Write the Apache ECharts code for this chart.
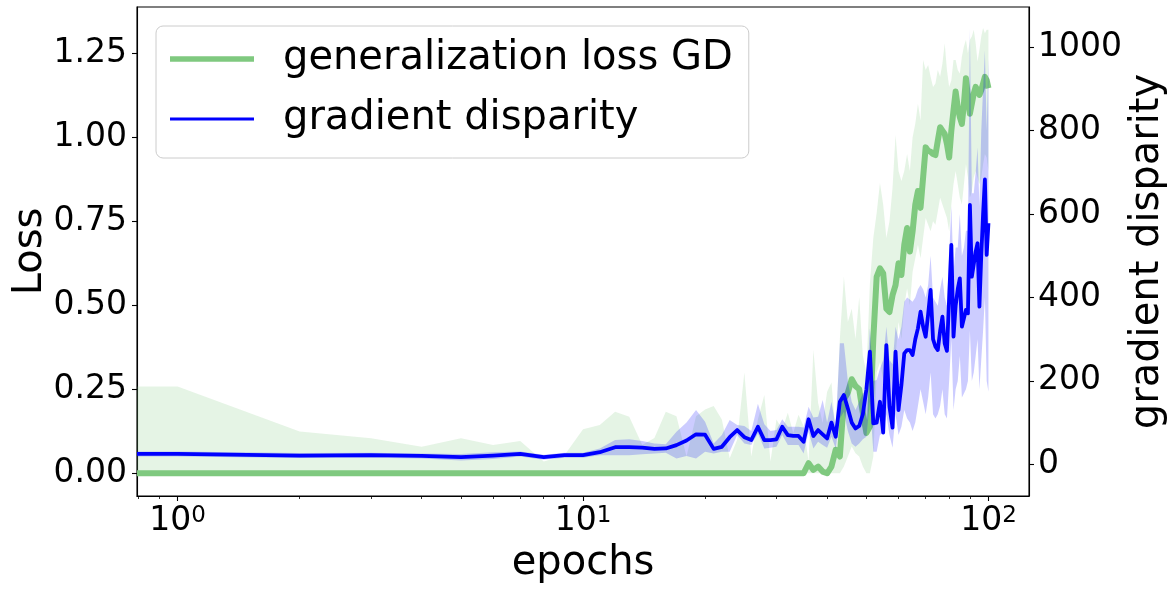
<!DOCTYPE html>
<html>
<head>
<meta charset="utf-8">
<script src="https://cdn.jsdelivr.net/npm/echarts@6/dist/echarts.min.js"></script>
<style>html,body{margin:0;padding:0;background:#fff}#c{width:1176px;height:590px}</style>
</head>
<body>
<div id="c"></div>
<script>
// ---------- data ----------
const epochs = Array.from({length: 100}, (_, i) => i + 1);
const X_MIN = 0.794, X_MAX = 125.9;   // epoch 0 is clipped to the left edge on the log axis

const lossMean = [0,0,0,0,0,0,0,0,0,0, 0,0,0,0,0,0,0,0,0,0, 0,0,0,0,0,0,0,0,0,0, 0,0,0,0,0,
  0.03,0.01,0.02,0.005,0,0.02,0.07,0.05,0.22,0.24,0.28,0.26,0.25,0.18,0.12,
  0.14,0.40,0.585,0.61,0.595,0.49,0.48,0.53,0.56,0.625,0.59,0.68,0.73,0.66,0.72,
  0.80,0.84,0.79,0.88,0.97,0.96,0.957,0.95,0.947,0.99,1.03,1.02,1.01,0.98,0.94,
  1.02,1.08,1.136,1.09,1.06,1.04,1.10,1.176,1.12,1.07,1.10,1.13,1.15,1.14,1.126,
  1.14,1.16,1.18,1.17,1.146];
const lossLow = [0,0,0,0,0,0,0,0,0,0, 0,0,0,0,0,0,0,0,0,0, 0,0,0,0,0,0,0,0,0,0, 0,0,0,0,0,
  0,0,0,0,0,0,0,0,0.02,0.05,0.08,0.06,0.05,0.02,0,
  0,0.05,0.30,0.33,0.28,0.26,0.25,0.30,0.35,0.45,0.40,0.50,0.55,0.50,0.60,
  0.64,0.68,0.64,0.70,0.76,0.74,0.72,0.75,0.74,0.78,0.82,0.80,0.78,0.76,0.72,
  0.80,0.86,0.90,0.86,0.82,0.80,0.86,0.92,0.88,0.82,0.84,0.88,0.90,0.88,0.86,
  0.88,0.92,0.95,0.94,0.90];
const lossHigh = [0.258,0.124,0.104,0.079,0.104,0.084,0.096,0.035,0.054,0.131,
  0.144,0.183,0.168,0.084,0.105,0.183,0.17,0.05,0.17,0.19,
  0.20,0.16,0.045,0.10,0.30,0.05,0.16,0.233,0.035,0.16,
  0.13,0.18,0.12,0.174,0.14,0.035,0.367,0.21,0.15,0.243,
  0.27,0.12,0.40,0.585,0.45,0.49,0.40,0.525,0.35,0.30,
  0.565,0.70,0.775,0.864,0.80,0.70,0.75,0.85,1.007,0.90,
  0.87,0.90,0.95,0.90,1.00,1.04,1.10,1.05,1.23,1.20,
  1.215,1.18,1.15,1.16,1.20,1.18,1.22,1.28,1.20,1.15,
  1.17,1.23,1.23,1.20,1.19,1.24,1.27,1.29,1.25,1.29,
  1.30,1.32,1.28,1.225,1.26,1.30,1.325,1.31,1.32,1.32];

const gdMean = [25,21,22,20,17,21,25,17,22,22, 29,41,41,40,37,38,46,57,72,71,
  37,42,65,82,65,58,90,58,58,60, 90,70,68,68,54,108,68,82,72,62,
  100,66,150,166,134,100,86,92,120,180, 270,98,100,150,76,286,138,88,270,130,
  190,266,274,274,262,300,326,366,330,306, 360,418,300,282,274,320,354,290,272,400,
  526,306,380,420,446,330,350,370,362,622, 450,480,510,530,378,500,600,683,502,578];
const gdLow = [19,15,16,14,9,13,19,11,16,16, 22,22,22,24,26,28,14,20,14,30,
  26,30,30,70,50,46,74,38,40,42, 70,46,46,46,26,78,38,54,46,40,
  66,38,110,126,80,50,42,50,60,66, 150,30,30,70,75,120,70,40,120,70,
  90,130,110,100,80,100,140,180,150,120, 160,220,120,110,120,140,180,120,110,200,
  300,130,180,200,260,160,170,180,200,320, 200,220,260,300,180,250,320,400,200,174];
const gdHigh = [31,27,28,26,25,29,31,23,28,28, 38,58,60,56,50,48,78,100,130,102,
  50,70,106,94,92,80,145,96,80,82, 108,90,90,90,88,138,112,114,154,100,
  150,90,290,290,200,150,130,150,170,178, 326,200,202,230,250,330,250,240,330,300,
  330,390,400,395,390,400,420,430,420,400, 430,500,400,390,380,420,450,400,380,500,
  620,460,520,520,600,500,520,560,560,1045, 650,650,700,760,620,800,900,993,800,974];

const lossTicks = [0, 0.25, 0.5, 0.75, 1.0, 1.25];
const gdTicks = [0, 200, 400, 600, 800, 1000];
const xMajorTicks = [1, 10, 100];
const xMinorTicks = [0.8, 0.9, 2, 3, 4, 5, 6, 7, 8, 9, 20, 30, 40, 50, 60, 70, 80, 90];

// ---------- build series data ----------
function pts(vals) {
  const out = [[X_MIN, vals[0]]];
  epochs.forEach((e, i) => out.push([e, vals[i]]));
  return out;
}
function band(lo, hi) {
  const out = [[X_MIN, lo[0], hi[0]]];
  epochs.forEach((e, i) => out.push([e, lo[i], hi[i]]));
  return out;
}
function bandRenderer(fill) {
  return function (params, api) {
    if (params.dataIndexInside !== 0) return null;
    const n = params.dataInsideLength;
    const top = [], bot = [];
    for (let i = 0; i < n; i++) {
      const x = api.value(0, i);
      bot.push(api.coord([x, api.value(1, i)]));
      top.push(api.coord([x, api.value(2, i)]));
    }
    return {type: 'polygon', shape: {points: top.concat(bot.reverse())},
            style: {fill: fill, stroke: null}, silent: true};
  };
}

const FONT = 'DejaVu Sans';
const GREEN = '#7fc97f', BLUE = '#0000ff';

const chart = echarts.init(document.getElementById('c'), null, {renderer: 'canvas'});

chart.setOption({
  animation: false,
  backgroundColor: '#fff',
  textStyle: {fontFamily: FONT, color: '#000'},
  grid: {left: 137, right: 147, top: 7, bottom: 94, containLabel: false, outerBoundsMode: 'none',
         show: true, borderColor: '#000', borderWidth: 1.1, backgroundColor: 'transparent'},
  legend: {
    left: 156, top: 26, orient: 'vertical', selectedMode: false,
    itemWidth: 84, itemHeight: 14, itemGap: 14,
    padding: [10, 16, 16, 14],
    backgroundColor: 'rgba(255,255,255,0.8)', borderColor: '#cccccc', borderWidth: 1, borderRadius: 7,
    textStyle: {fontFamily: FONT, fontSize: 40, color: '#000', lineHeight: 46, padding: [0, 0, 0, 24]},
    itemStyle: {borderWidth: 0},
    data: [
      {name: 'generalization loss GD', icon: 'path://M0,0H84V5.5H0Z', itemStyle: {color: GREEN}},
      {name: 'gradient disparity', icon: 'path://M0,0H84V3H0Z', itemStyle: {color: BLUE}}
    ]
  },
  xAxis: [{
    type: 'log', logBase: 10, min: X_MIN, max: X_MAX, position: 'bottom',
    name: 'epochs', nameLocation: 'middle', nameGap: 48, nameMoveOverlap: false,
    nameTextStyle: {fontFamily: FONT, fontSize: 40, color: '#000'},
    axisLine: {show: true, onZero: false, lineStyle: {color: '#000', width: 1.1}},
    axisTick: {show: true, length: 5, lineStyle: {color: '#000', width: 1.1}, customValues: xMajorTicks},
    axisLabel: {
      show: true, margin: 9, customValues: xMajorTicks,
      formatter: v => '{b|10}{s|' + Math.round(Math.log10(v)) + '}',
      rich: {b: {fontFamily: FONT, fontSize: 33, color: '#000', verticalAlign: 'bottom'},
             s: {fontFamily: FONT, fontSize: 23, color: '#000', verticalAlign: 'top'}}
    },
    splitLine: {show: false}, minorTick: {show: false}
  }, {
    type: 'log', logBase: 10, min: X_MIN, max: X_MAX, position: 'bottom', offset: 0,
    axisLine: {show: false, onZero: false},
    axisTick: {show: true, length: 3, lineStyle: {color: '#000', width: 0.8}, customValues: xMinorTicks},
    axisLabel: {show: false}, splitLine: {show: false}
  }],
  yAxis: [{
    type: 'value', min: -0.0676, max: 1.3878, position: 'left',
    name: 'Loss', nameLocation: 'middle', nameGap: 86, nameMoveOverlap: false,
    nameTextStyle: {fontFamily: FONT, fontSize: 40, color: '#000'},
    axisLine: {show: true, onZero: false, lineStyle: {color: '#000', width: 1.1}},
    axisTick: {show: true, length: 5, lineStyle: {color: '#000', width: 1.1}, customValues: lossTicks},
    axisLabel: {show: true, margin: 10, fontFamily: FONT, fontSize: 33, color: '#000',
                customValues: lossTicks, formatter: v => v.toFixed(2)},
    splitLine: {show: false}
  }, {
    type: 'value', min: -76, max: 1096.6, position: 'right',
    name: 'gradient disparity', nameLocation: 'middle', nameGap: 99, nameMoveOverlap: false,
    nameTextStyle: {fontFamily: FONT, fontSize: 40, color: '#000'},
    axisLine: {show: true, onZero: false, lineStyle: {color: '#000', width: 1.1}},
    axisTick: {show: true, length: 5, lineStyle: {color: '#000', width: 1.1}, customValues: gdTicks},
    axisLabel: {show: true, margin: 9, fontFamily: FONT, fontSize: 33, color: '#000',
                customValues: gdTicks, formatter: v => String(Math.round(v))},
    splitLine: {show: false}
  }],
  series: [
    {type: 'custom', name: 'lossBand', xAxisIndex: 0, yAxisIndex: 0, z: 1, silent: true,
      encode: {x: 0, y: [1, 2]}, renderItem: bandRenderer('rgba(127,201,127,0.2)'),
      data: band(lossLow, lossHigh)},
    {type: 'line', name: 'generalization loss GD', xAxisIndex: 0, yAxisIndex: 0, z: 2,
      showSymbol: false, symbol: 'none', silent: true,
      itemStyle: {color: GREEN}, lineStyle: {color: GREEN, width: 6, join: 'round'},
      data: pts(lossMean)},
    {type: 'custom', name: 'gdBand', xAxisIndex: 0, yAxisIndex: 1, z: 3, silent: true,
      encode: {x: 0, y: [1, 2]}, renderItem: bandRenderer('rgba(0,0,255,0.2)'),
      data: band(gdLow, gdHigh)},
    {type: 'line', name: 'gradient disparity', xAxisIndex: 0, yAxisIndex: 1, z: 4,
      showSymbol: false, symbol: 'none', silent: true,
      itemStyle: {color: BLUE}, lineStyle: {color: BLUE, width: 3.8, join: 'round'},
      data: pts(gdMean)}
  ]
});
</script>
</body>
</html>
